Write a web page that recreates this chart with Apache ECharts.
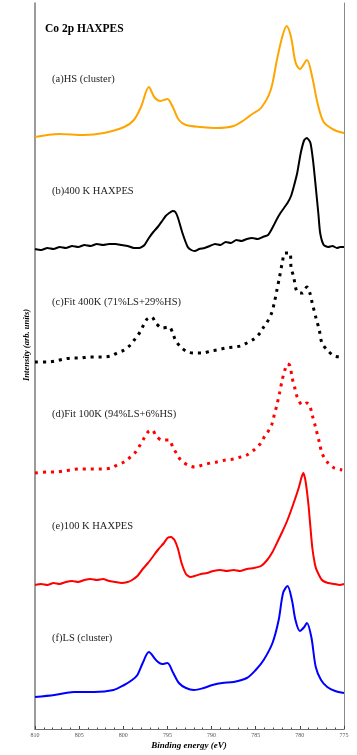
<!DOCTYPE html>
<html>
<head>
<meta charset="utf-8">
<script src="https://cdn.jsdelivr.net/npm/echarts@6/dist/echarts.min.js"></script>
<style>
  html, body { margin: 0; padding: 0; background: #fff; }
  #chart { width: 357px; height: 755px; }
</style>
</head>
<body>
<div id="chart"></div>
<script>
// stacked Co 2p HAXPES spectra, intensities (arb. units, offsets included)
const xTicks = [810, 805, 800, 795, 790, 785, 780, 775]

const labels = [
  '(a)HS (cluster)',
  '(b)400 K HAXPES',
  '(c)Fit 400K (71%LS+29%HS)',
  '(d)Fit 100K (94%LS+6%HS)',
  '(e)100 K HAXPES',
  '(f)LS (cluster)',
]

const hsE = [810, 807.3, 804.5, 802.2, 799.9, 798.8, 798.0, 797.1, 796.5, 795.8, 795.0, 794.4, 793.7, 792.9, 791.2, 789.4, 787.5, 786.3, 785.4, 784.4, 783.3, 782.6, 782.0, 781.5, 781.0, 780.5, 780.0, 779.2, 778.6, 778.0, 777.3, 776.1, 775]
const hsI = [592, 595, 594, 596, 602, 609, 622, 642, 632, 628, 630, 622, 609, 604, 602, 601, 603, 609, 615, 621, 639, 669, 692, 703, 692, 667, 660, 669, 652, 626, 607, 599, 596]

const k400E = [810, 809.3, 808.6, 807.9, 807.2, 806.5, 805.8, 805.1, 804.4, 803.7, 803.0, 802.3, 801.6, 800.9, 800.2, 799.5, 798.8, 798.2, 797.6, 797.1, 796.6, 796.1, 795.6, 795.2, 794.8, 794.4, 794.1, 793.8, 793.3, 792.7, 792.3, 791.9, 791.4, 790.8, 790.2, 789.6, 789.0, 788.4, 787.8, 787.2, 786.6, 786.0, 785.4, 784.8, 784.2, 783.6, 783.0, 782.6, 782.2, 781.8, 781.4, 781.0, 780.7, 780.3, 779.9, 779.5, 779.2, 778.8, 778.5, 778.2, 777.9, 777.7, 777.3, 776.8, 776.3, 775.8, 775.4, 775]
const k400I = [480, 479, 481, 480, 482, 481, 483, 482, 484, 483, 485, 484, 485, 485, 484, 483, 481, 481, 484, 491, 497, 502, 508, 513, 516, 518, 517, 511, 496, 482, 479, 478, 480, 481, 483, 485, 484, 487, 486, 489, 488, 490, 491, 490, 492, 494, 503, 510, 516, 521, 526, 533, 542, 556, 576, 589, 591, 586, 568, 542, 515, 496, 484, 482, 483, 481, 482, 482]

const fit400E = [810, 808.6, 807.7, 806.7, 805.8, 804.8, 804.1, 803.1, 802.4, 801.4, 800.7, 799.9, 799.2, 798.6, 798.1, 797.7, 797.3, 796.8, 796.3, 795.6, 794.8, 794.4, 794.1, 793.5, 792.7, 792.0, 791.0, 790.1, 789.4, 788.4, 787.5, 786.7, 786.0, 785.2, 784.5, 784.1, 783.7, 783.2, 782.9, 782.6, 782.3, 782.0, 781.7, 781.4, 781.1, 781.0, 780.7, 780.3, 779.7, 779.2, 778.9, 778.6, 778.2, 777.8, 777.5, 776.9, 776.1, 775.2]
const fit400I = [367, 367, 368, 370, 371, 371, 372, 372, 372, 373, 376, 379, 384, 391, 397, 404, 410, 412, 406, 401, 402, 396, 389, 382, 377, 376, 376, 378, 379, 381, 382, 383, 386, 390, 396, 402, 407, 416, 426, 439, 452, 466, 476, 476, 476, 462, 452, 437, 436, 442, 437, 426, 412, 399, 386, 379, 373, 372]

const fit100E = [810, 808.6, 807.7, 806.7, 806.0, 805.0, 804.1, 803.3, 802.4, 801.4, 800.7, 799.9, 799.2, 798.6, 798.1, 797.7, 797.2, 796.7, 796.3, 795.6, 794.8, 794.4, 794.0, 793.5, 792.7, 791.9, 791.0, 790.1, 789.4, 788.4, 787.5, 786.7, 786.0, 785.2, 784.5, 784.1, 783.7, 783.2, 782.9, 782.6, 782.3, 782.0, 781.7, 781.4, 781.1, 780.9, 780.6, 780.3, 779.7, 779.2, 778.9, 778.6, 778.2, 777.8, 777.5, 776.9, 776.1, 775.2]
const fit100I = [256, 257, 257, 258, 259, 260, 260, 260, 260, 261, 264, 267, 272, 277, 284, 290, 297, 299, 293, 289, 289, 282, 276, 269, 264, 262, 264, 266, 267, 269, 270, 272, 274, 279, 285, 291, 296, 304, 314, 324, 336, 349, 359, 365, 363, 352, 342, 332, 324, 326, 324, 314, 301, 287, 276, 267, 261, 259]

const k100E = [810, 809.3, 808.6, 807.9, 807.2, 806.5, 805.8, 805.1, 804.4, 803.7, 803.0, 802.3, 801.6, 800.9, 800.2, 799.5, 799.0, 798.4, 797.8, 797.2, 796.6, 796.0, 795.4, 795.0, 794.6, 794.2, 793.8, 793.4, 792.9, 792.4, 791.9, 791.2, 790.5, 789.8, 789.0, 788.3, 787.5, 786.8, 786.0, 785.2, 784.4, 783.7, 783.1, 782.6, 782.0, 781.4, 780.7, 780.1, 779.8, 779.6, 779.4, 779.2, 779.0, 778.6, 778.3, 778.1, 777.5, 776.8, 776.1, 775.5, 775]
const k100I = [144, 145, 144, 146, 145, 147, 148, 147, 149, 150, 149, 150, 148, 147, 146, 147, 149, 153, 160, 166, 173, 180, 186, 191, 192, 189, 180, 166, 155, 152, 153, 155, 156, 158, 159, 158, 159, 158, 160, 161, 163, 169, 177, 186, 197, 209, 226, 242, 252, 256, 250, 238, 222, 182, 165, 159, 149, 146, 145, 144, 145]

const lsE = [810, 807.8, 805.6, 803.3, 801.1, 799.9, 799.0, 798.4, 797.8, 797.1, 796.3, 795.6, 795.0, 794.4, 793.7, 792.9, 792.0, 790.9, 789.9, 788.8, 787.5, 786.0, 785.0, 784.1, 783.1, 782.4, 781.9, 781.4, 780.9, 780.5, 780.0, 779.5, 779.2, 778.7, 778.2, 777.6, 776.9, 776.0, 775]
const lsI = [32, 34, 37, 37, 39, 44, 49, 54, 66, 77, 69, 65, 66, 57, 46, 41, 39, 41, 44, 46, 47, 51, 59, 69, 86, 109, 136, 143, 129, 109, 98, 102, 106, 92, 62, 49, 42, 38, 36]

const pairs = (xs, ys) => xs.map((x, i) => [x, ys[i]])

const chart = echarts.init(document.getElementById('chart'), null, { renderer: 'canvas' })

const serif = '"Liberation Serif", "DejaVu Serif", serif'
const dots = [3, 5]

const line = (name, xs, ys, color, type, smooth) => ({
  name, type: 'line', data: pairs(xs, ys),
  showSymbol: false, smooth: smooth ?? 0.3, silent: true,
  lineStyle: { color, width: type ? 3 : 2, type: type || 'solid', cap: 'butt' },
})

const labelTops = [80, 192, 303, 415, 527, 639]

chart.setOption({
  animation: false,
  backgroundColor: '#fff',
  grid: { left: 35, right: 13, top: 3, bottom: 26 },
  xAxis: [
    {
      type: 'value', min: 775, max: 810, interval: 5, inverse: true, position: 'bottom',
      axisLine: { show: false },
      axisTick: { show: true, inside: true, length: 3, lineStyle: { color: '#444' } },
      minorTick: { show: true, splitNumber: 5, length: 1.5, lineStyle: { color: '#444' } },
      axisLabel: {
        color: '#555', fontSize: 6, fontFamily: serif, margin: 3,
        formatter: v => xTicks.includes(v) ? String(v) : '',
      },
      splitLine: { show: false },
    },
    {
      type: 'value', min: 775, max: 810, inverse: true, position: 'top',
      axisLine: { show: true, lineStyle: { color: '#6e6e6e', width: 1.2 } },
      axisTick: { show: false }, axisLabel: { show: false }, splitLine: { show: false },
    },
  ],
  yAxis: [
    {
      type: 'value', min: 0, max: 726, position: 'left',
      axisLine: { show: true, lineStyle: { color: '#7a7a7a', width: 1.5 } },
      axisTick: { show: false }, axisLabel: { show: false }, splitLine: { show: false },
    },
    {
      type: 'value', min: 0, max: 726, position: 'right',
      axisLine: { show: true, lineStyle: { color: '#8a8a8a', width: 1 } },
      axisTick: { show: false }, axisLabel: { show: false }, splitLine: { show: false },
    },
  ],
  series: [
    line('a', hsE, hsI, '#FFA500'),
    line('b', k400E, k400I, '#000000', null, 0.2),
    line('c', fit400E, fit400I, '#000000', dots),
    line('d', fit100E, fit100I, '#FF0000', dots),
    line('e', k100E, k100I, '#FF0000', null, 0.2),
    line('f', lsE, lsI, '#0000FF'),
  ],
  graphic: [
    {
      type: 'text', left: 45, top: 23,
      style: { text: 'Co 2p HAXPES', font: `bold 11.5px ${serif}`, fill: '#000' },
    },
    ...labels.map((t, i) => ({
      type: 'text', left: 52, top: labelTops[i] - 6,
      style: { text: t, font: `10.5px ${serif}`, fill: '#222' },
    })),
    {
      type: 'text', x: 27, y: 345, rotation: Math.PI / 2,
      style: { text: 'Intensity (arb. units)', font: `italic bold 8.5px ${serif}`, fill: '#000', align: 'center', verticalAlign: 'middle' },
    },
    {
      type: 'text', x: 189, y: 746,
      style: { text: 'Binding energy (eV)', font: `italic bold 9px ${serif}`, fill: '#000', align: 'center', verticalAlign: 'middle' },
    },
  ],
})
</script>
</body>
</html>
